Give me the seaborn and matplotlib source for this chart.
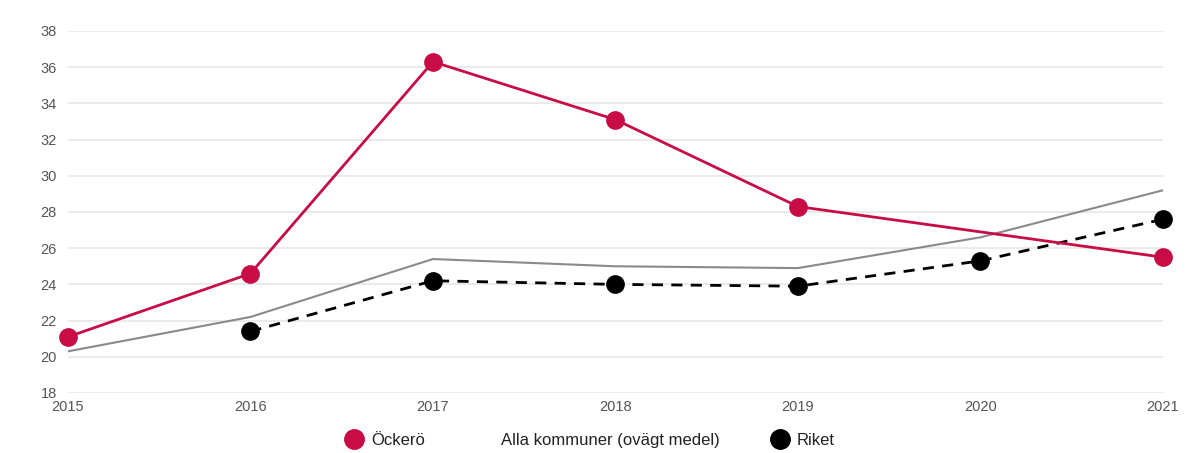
import seaborn as sns
import pandas as pd
import matplotlib.pyplot as plt
from matplotlib.lines import Line2D

# Data
years = [2015, 2016, 2017, 2018, 2019, 2020, 2021]
ockero = [21.1, 24.6, 36.3, 33.1, 28.3, None, 25.5]
alla = [20.3, 22.2, 25.4, 25.0, 24.9, 26.6, 29.2]
riket = [None, 21.4, 24.2, 24.0, 23.9, 25.3, 27.6]
yticks = [18, 20, 22, 24, 26, 28, 30, 32, 34, 36, 38]

red = '#c80c45'
gray = '#8a8a8a'

sns.set_style("white")
plt.rcParams['font.family'] = ['Liberation Sans', 'DejaVu Sans']

df_o = pd.DataFrame({'year': years, 'value': ockero}).dropna()
df_a = pd.DataFrame({'year': years, 'value': alla})
df_r = pd.DataFrame({'year': years, 'value': riket}).dropna()

fig = plt.figure(figsize=(11.86, 4.53), dpi=100)
ax = fig.add_axes([0.0573, 0.1325, 0.9233, 0.7991])

sns.lineplot(data=df_a, x='year', y='value', color=gray, linewidth=1.5, ax=ax)
sns.lineplot(data=df_r, x='year', y='value', color='black', linewidth=2,
             linestyle=(0, (4, 3)), marker='o', markersize=13.5,
             markeredgewidth=0, ax=ax, clip_on=False)
sns.lineplot(data=df_o, x='year', y='value', color=red, linewidth=2,
             marker='o', markersize=13.5, markeredgewidth=0, ax=ax,
             clip_on=False)

ax.set_xlim(2015, 2021)
ax.set_ylim(18, 38)
ax.set_yticks(yticks)
ax.set_xticks(years)
ax.set_xlabel('')
ax.set_ylabel('')
ax.grid(axis='y', color='#e6e6e6', linewidth=1.2)
ax.set_axisbelow(True)
for s in ax.spines.values():
    s.set_visible(False)
ax.tick_params(axis='both', length=0, labelsize=10.5, labelcolor='#555555')
ax.tick_params(axis='y', pad=8)
ax.tick_params(axis='x', pad=5)

handles = [
    Line2D([], [], color=red, marker='o', linestyle='none', markersize=14),
    Line2D([], [], color='none', marker='none', linestyle='none'),
    Line2D([], [], color='black', marker='o', linestyle='none', markersize=14),
]
labels = ['Öckerö', 'Alla kommuner (ovägt medel)', 'Riket']
fig.legend(handles, labels, loc='center', bbox_to_anchor=(0.497, 0.027),
           ncol=3, frameon=False, fontsize=12, handletextpad=0.4,
           columnspacing=3.0, handlelength=1.2, labelcolor='#222222')

fig.savefig('out.png', dpi=100)
